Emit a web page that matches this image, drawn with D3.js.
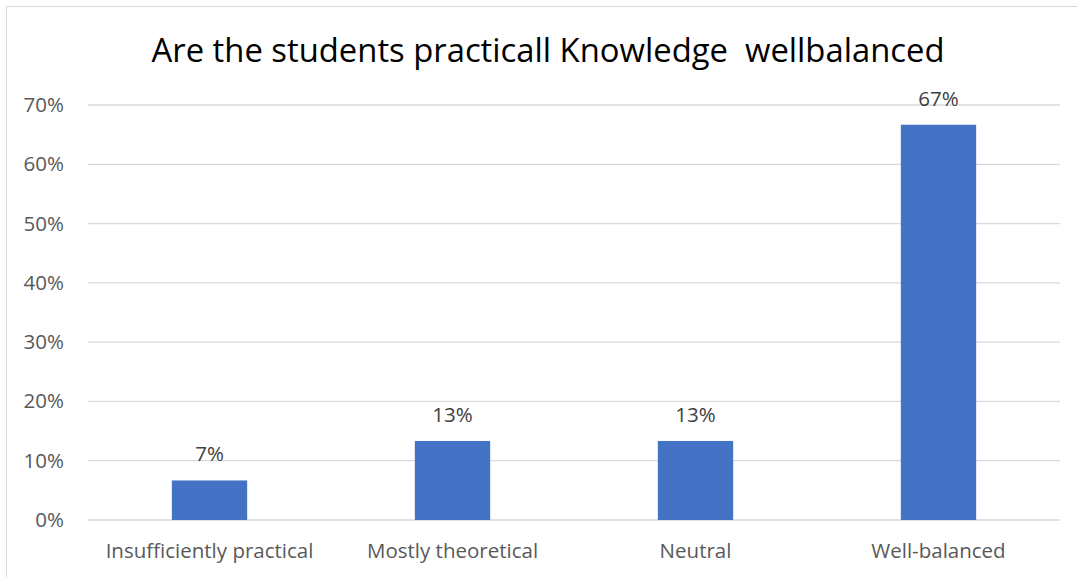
<!DOCTYPE html>
<html><head><meta charset="utf-8">
<script src="https://cdn.jsdelivr.net/npm/d3@7"></script>
<style>body{margin:0;background:#fff;}svg{display:block;font-family:"Open Sans",sans-serif;}</style>
</head><body>
<svg id="c" width="1077" height="577"></svg>
<script>
const categories = ["Insufficiently practical","Mostly theoretical","Neutral","Well-balanced"];
const values = [0.0667, 0.1333, 0.1333, 0.6667];
const valueLabels = ["7%","13%","13%","67%"];
const yTicks = [0,0.1,0.2,0.3,0.4,0.5,0.6,0.7];
const title = "Are the students practicall Knowledge\u00a0 wellbalanced";
const FONT = "'Open Sans',sans-serif";

const svg = d3.select("#c");
svg.append("rect").attr("x",6.5).attr("y",6.5).attr("width",1080).attr("height",580)
  .attr("fill","#fff").attr("stroke","#d9d9d9");

const m = {l:88, r:1060, t:105, b:520};
const x = d3.scaleBand().domain(categories).range([m.l,m.r]).paddingInner(0.69).paddingOuter(0.345);
const y = d3.scaleLinear().domain([0,0.7]).range([m.b,m.t]);

svg.append("g").selectAll("line").data(yTicks).join("line")
  .attr("x1",m.l).attr("x2",m.r).attr("y1",d=>y(d)).attr("y2",d=>y(d))
  .attr("stroke","#d9d9d9").attr("stroke-width",1.3);

const ya = svg.append("g").attr("transform",`translate(${m.l-24},0)`)
  .call(d3.axisLeft(y).tickValues(yTicks).tickFormat(d3.format(".0%")).tickSize(0).tickPadding(0));
ya.select(".domain").remove();
ya.selectAll("text").attr("font-size",20.5).attr("fill","#595959").attr("font-family",FONT);

svg.append("g").selectAll("rect").data(values).join("rect")
  .attr("x",(d,i)=>x(categories[i])).attr("width",x.bandwidth())
  .attr("y",d=>y(d)).attr("height",d=>y(0)-y(d)).attr("fill","#4472c4");

svg.append("g").selectAll("text").data(values).join("text")
  .attr("x",(d,i)=>x(categories[i])+x.bandwidth()/2).attr("y",d=>y(d)-19)
  .attr("text-anchor","middle").attr("font-size",20.5).attr("fill","#404040").attr("font-family",FONT)
  .text((d,i)=>valueLabels[i]);

const xa = svg.append("g").attr("transform",`translate(0,${m.b})`)
  .call(d3.axisBottom(x).tickSize(0).tickPadding(23));
xa.select(".domain").remove();
xa.selectAll("text").attr("font-size",20.5).attr("fill","#595959").attr("font-family",FONT);

svg.append("text").attr("x",548).attr("y",62).attr("text-anchor","middle")
  .attr("font-size",32.8).attr("fill","#000").attr("font-family",FONT).text(title);
</script>
</body></html>
